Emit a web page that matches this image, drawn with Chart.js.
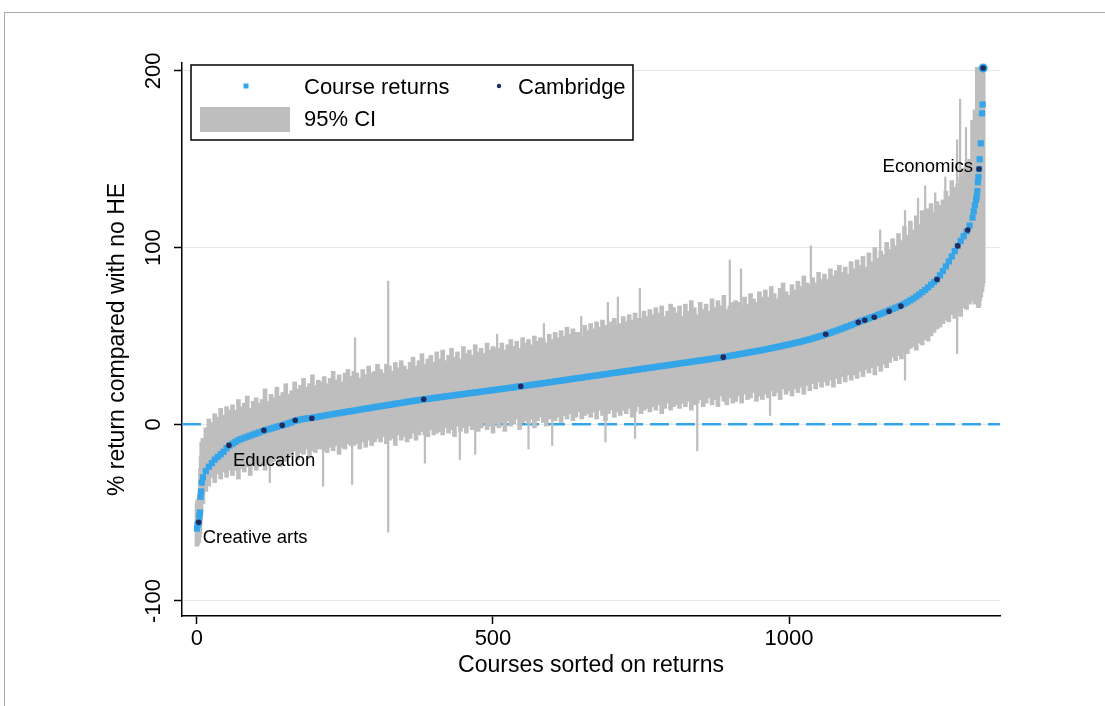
<!DOCTYPE html>
<html>
<head>
<meta charset="utf-8">
<script src="https://cdn.jsdelivr.net/npm/chart.js@4.4.1/dist/chart.umd.min.js"></script>
<style>
    html, body { margin: 0; padding: 0; background: #fff; }
    #wrap { position: relative; width: 1105px; height: 706px; overflow: hidden; }
    #frame { position: absolute; left: 4px; top: 12px; width: 1110px; height: 700px; border-top: 1px solid #aaa; border-left: 1px solid #aaa; }
    canvas { position: absolute; left: 0; top: 0; }
</style>
</head>
<body>
<div id="wrap">
    <div id="frame"></div>
    <canvas id="chart" width="1105" height="706"></canvas>
</div>
<script>
// course ranks 0..8 (steep start)
const headRanks = [0, 1, 2, 3, 4, 5, 6, 7, 8];
const headReturns = [-59, -57, -56, -55.5, -52, -50, -41, -38, -33];
const headLow = [-69, -68, -66, -67, -64, -62, -55, -50, -44];
const headHigh = [-45, -43, -44, -42, -40, -36, -25, -18, -10];

// course ranks 10..1305, one value every 5 courses
const midStart = 10;
const midStep = 5;
const midReturns = [
    -30, -26.5, -24, -22, -20, -18.5, -17, -15.5, -13.5, -12,
    -11, -10, -9, -8.3, -7.6, -7, -6.4, -5.8, -5.2, -4.6,
    -4, -3.4, -2.9, -2.4, -1.9, -1.4, -0.9, -0.5, 0, 0.6,
    1.2, 1.9, 2.3, 2.7, 3, 3.3, 3.5, 3.7, 4, 4.3,
    4.6, 4.9, 5.2, 5.5, 5.8, 6.1, 6.3, 6.6, 6.9, 7.2,
    7.4, 7.7, 8, 8.3, 8.6, 8.9, 9.1, 9.4, 9.7, 10,
    10.2, 10.5, 10.8, 11, 11.3, 11.6, 11.9, 12.1, 12.4, 12.7,
    12.9, 13.2, 13.5, 13.7, 14, 14.2, 14.4, 14.6, 14.9, 15.1,
    15.3, 15.5, 15.8, 16, 16.2, 16.4, 16.7, 16.9, 17.1, 17.3,
    17.6, 17.8, 18, 18.2, 18.5, 18.7, 18.9, 19.1, 19.4, 19.6,
    19.8, 20, 20.3, 20.5, 20.7, 20.9, 21.2, 21.4, 21.6, 21.8,
    22.1, 22.3, 22.6, 22.8, 23, 23.3, 23.5, 23.8, 24, 24.3,
    24.5, 24.7, 25, 25.2, 25.5, 25.7, 26, 26.2, 26.4, 26.7,
    26.9, 27.2, 27.4, 27.6, 27.9, 28.1, 28.4, 28.6, 28.9, 29.1,
    29.3, 29.6, 29.8, 30.1, 30.3, 30.5, 30.8, 31, 31.3, 31.5,
    31.8, 32, 32.2, 32.5, 32.7, 33, 33.2, 33.4, 33.7, 33.9,
    34.2, 34.4, 34.7, 34.9, 35.1, 35.4, 35.6, 35.9, 36.1, 36.3,
    36.6, 36.8, 37.1, 37.3, 37.6, 37.8, 38.1, 38.4, 38.7, 39,
    39.3, 39.6, 39.9, 40.2, 40.5, 40.8, 41.1, 41.4, 41.7, 42,
    42.4, 42.7, 43.1, 43.4, 43.8, 44.1, 44.5, 44.9, 45.2, 45.6,
    46, 46.4, 46.8, 47.2, 47.7, 48.1, 48.6, 49.1, 49.6, 50.1,
    50.7, 51.2, 51.8, 52.4, 53, 53.6, 54.2, 54.9, 55.5, 56.1,
    56.8, 57.5, 58.2, 58.8, 59.4, 60, 60.6, 61.2, 61.9, 62.5,
    63.2, 63.9, 64.6, 65.3, 66, 66.7, 67.4, 68.3, 69.2, 70.2,
    71.2, 72.3, 73.5, 74.8, 76.1, 77.5, 79, 80.5, 82, 84.3,
    86.8, 89.4, 92.2, 95, 98, 101, 103.8, 106.5, 109.2, 112.5
];
const midLow = [
    -45, -38, -35, -30, -33, -28, -31, -27, -30, -26,
    -29, -26, -31, -25, -27, -24, -29, -23, -26, -24,
    -22, -26, -20, -22, -21, -19, -24, -18, -21, -17,
    -18, -15, -20, -16, -17, -14, -19, -15, -16, -14,
    -14, -15, -16, -13, -15, -12, -17, -13, -14, -11,
    -12, -12, -11, -14, -10, -13, -9, -12, -10, -8,
    -10, -7, -11, -9, -8, -12, -6, -9, -7, -10,
    -8, -5, -9, -6, -4, -6, -7, -3, -6, -5,
    -4, -6, -2, -5, -3, -7, -1, -4, -2, -5,
    -1, -3, 0, -4, -2, 1, -3, -1, -5, 0,
    -2, 1, -4, 2, -1, 0, 3, -3, 1, 2,
    0, 3, -2, 2, 4, 1, -1, 3, 5, 2,
    4, 1, 5, 3, 6, 2, 4, 7, 3, 5,
    6, 4, 7, 3, 8, 5, 2, 6, 8, 4,
    7, 5, 8, 6, 9, 4, 7, 10, 6, 8,
    9, 7, 10, 8, 11, 6, 9, 12, 8, 10,
    11, 9, 12, 10, 13, 8, 11, 12, 14, 10,
    12, 15, 11, 14, 10, 16, 13, 11, 15, 12,
    13, 16, 12, 17, 14, 15, 18, 13, 16, 14,
    17, 15, 19, 16, 18, 14, 20, 17, 19, 16,
    20, 18, 21, 17, 22, 19, 23, 20, 24, 21,
    24, 22, 25, 21, 26, 23, 27, 24, 28, 25,
    28, 26, 30, 27, 31, 29, 32, 28, 33, 30,
    34, 32, 35, 38, 36, 39, 37, 41, 40, 43,
    44, 42, 46, 45, 48, 47, 50, 52, 54, 55,
    57, 59, 58, 62, 60, 64, 61, 66, 65, 68
];
const midHigh = [
    -8, -2, 3, 1, 6, 4, 9, 5, 10, 8,
    11, 8, 14, 10, 12, 16, 9, 13, 15, 12,
    14, 20, 13, 17, 15, 21, 16, 18, 23, 17,
    19, 24, 20, 22, 26, 21, 23, 28, 22, 25,
    24, 27, 23, 26, 30, 25, 28, 24, 29, 31,
    27, 30, 29, 26, 31, 28, 33, 29, 30, 34,
    31, 29, 34, 33, 30, 35, 32, 36, 33, 31,
    35, 38, 33, 36, 40, 34, 37, 39, 35, 41,
    37, 42, 36, 39, 43, 38, 41, 37, 44, 40,
    42, 39, 45, 41, 43, 40, 46, 42, 44, 43,
    43, 46, 42, 45, 48, 44, 47, 43, 49, 46,
    48, 45, 50, 47, 49, 48, 46, 51, 48, 52,
    49, 53, 50, 55, 51, 54, 52, 52, 50, 56,
    53, 57, 54, 58, 55, 59, 56, 55, 58, 60,
    56, 57, 61, 58, 62, 59, 63, 60, 60, 64,
    61, 65, 62, 66, 63, 67, 61, 64, 68, 66,
    63, 67, 61, 68, 64, 70, 66, 62, 69, 65,
    68, 64, 71, 66, 70, 67, 73, 65, 67, 69,
    70, 69, 67, 72, 68, 74, 71, 69, 75, 72,
    76, 72, 78, 74, 71, 77, 80, 75, 73, 79,
    76, 81, 78, 84, 80, 79, 83, 80, 86, 82,
    85, 82, 88, 84, 87, 90, 86, 89, 85, 92,
    88, 93, 90, 95, 89, 97, 92, 100, 94, 98,
    96, 103, 99, 105, 101, 108, 104, 112, 107, 115,
    110, 118, 113, 121, 116, 122, 125, 120, 126, 124,
    127, 132, 129, 138, 134, 136, 140, 145, 147, 150
];

// course ranks at the very top
const tailRanks = [1310, 1312, 1314, 1316, 1317, 1318, 1319, 1320, 1321, 1322, 1324, 1326, 1327, 1328];
const tailReturns = [117, 120.5, 124, 127, 129, 132, 137, 140, 144.5, 150, 159, 176, 181, 201.7];
const tailLow = [70, 72, 68, 74, 71, 69, 73, 66, 67, 70, 72, 75, 78, 80];
const tailHigh = [172, 160, 178, 165, 170, 202, 202, 202, 202, 202, 202, 202, 202, 202];

// courses with a very wide interval, drawn as thin lines
const wideRanks = [123, 213, 262, 267, 323, 385, 444, 470, 507, 560, 586, 600, 649, 690, 694, 711, 740, 748, 794, 804, 845, 900, 919, 968, 1037, 1083, 1103, 1154, 1196, 1218, 1230, 1247, 1264, 1284, 1289, 1299];
const wideLow = [-33, -35, -34, 0, -61, -22, -20, -17, 10, -14, 15, -12, 20, -10, 22, 25, -8, 30, 30, 35, -15, 45, 45, 5, 55, 60, 60, 65, 25, 75, 80, 80, 85, 40, 95, 100];
const wideHigh = [0, 22, 20, 49, 81, 25, 30, 35, 51, 40, 57, 42, 61, 45, 69, 72, 50, 77, 61, 66, 50, 93, 88, 60, 101, 90, 92, 110, 121, 128, 135, 131, 140, 161, 184, 168];

// Cambridge courses
const cambridgeRanks = [3, 54, 113, 144, 166, 194, 383, 547, 889, 1062, 1117, 1128, 1144, 1169, 1189, 1250, 1285, 1302, 1321, 1328];
const cambridgeReturns = [-55.5, -11.9, -3.4, -0.6, 2.3, 3.4, 14.2, 21.5, 38, 51, 57.8, 58.9, 60.6, 64, 66.9, 82, 101, 110, 144.5, 201.7];

const labelTexts = ["Creative arts", "Education", "Economics"];
const labelPoints = [0, 1, 18];

const xTicks = [0, 500, 1000];
const yTicks = [-100, 0, 100, 200];
const xMin = -25.3;
const xMax = 1356.4;
const yMin = -108.5;
const yMax = 204.5;

const FONT = "'Liberation Sans', Arial, Helvetica, sans-serif";
const BLUE = "#34a5e8";
const GREY = "#bebebe";
const NAVY = "#202b5e";

const midRanks = midReturns.map((_, i) => midStart + midStep * i);
const ranks = headRanks.concat(midRanks, tailRanks);
const returns = headReturns.concat(midReturns, tailReturns);
const ciLow = headLow.concat(midLow, tailLow);
const ciHigh = headHigh.concat(midHigh, tailHigh);

const yTickLabels = {
    id: "yTickLabels",
    afterDraw(chart) {
        const { ctx, scales: { y } } = chart;
        ctx.save();
        ctx.fillStyle = "#000";
        ctx.font = `22px ${FONT}`;
        ctx.textAlign = "center";
        ctx.textBaseline = "alphabetic";
        yTicks.forEach(v => {
            ctx.save();
            ctx.translate(160, y.getPixelForValue(v));
            ctx.rotate(-Math.PI / 2);
            ctx.fillText(String(v), 0, 0);
            ctx.restore();
        });
        ctx.restore();
    }
};

const pointLabels = {
    id: "pointLabels",
    afterDatasetsDraw(chart) {
        const { ctx, scales: { x, y } } = chart;
        ctx.save();
        ctx.fillStyle = "#000";
        ctx.font = `18.5px ${FONT}`;
        ctx.textBaseline = "alphabetic";
        labelPoints.forEach((p, i) => {
            const px = x.getPixelForValue(cambridgeRanks[p]);
            const py = y.getPixelForValue(cambridgeReturns[p]);
            if (i === 2) {
                ctx.textAlign = "right";
                ctx.fillText(labelTexts[i], px - 6, py + 2.6);
            } else {
                ctx.textAlign = "left";
                ctx.fillText(labelTexts[i], px + 4, py + 20.6);
            }
        });
        ctx.restore();
    }
};

const legendBox = {
    id: "legendBox",
    afterDraw(chart) {
        const ctx = chart.ctx;
        ctx.save();
        ctx.fillStyle = "#fff";
        ctx.fillRect(191, 65, 442, 75);
        ctx.strokeStyle = "#000";
        ctx.lineWidth = 1.5;
        ctx.strokeRect(191, 65, 442, 75);

        ctx.fillStyle = BLUE;
        ctx.fillRect(243.5, 83.5, 5, 5);
        ctx.fillStyle = NAVY;
        ctx.beginPath();
        ctx.arc(499, 86, 2.2, 0, Math.PI * 2);
        ctx.fill();
        ctx.fillStyle = GREY;
        ctx.fillRect(200, 107, 90, 25);

        ctx.fillStyle = "#000";
        ctx.font = `22px ${FONT}`;
        ctx.textAlign = "left";
        ctx.textBaseline = "alphabetic";
        ctx.fillText("Course returns", 304, 94);
        ctx.fillText("Cambridge", 518, 94);
        ctx.fillText("95% CI", 304, 126);
        ctx.restore();
    }
};

new Chart(document.getElementById("chart"), {
    type: "bar",
    data: {
        datasets: [
            {
                type: "scatter",
                label: "Cambridge",
                data: cambridgeRanks.map((r, i) => ({ x: r, y: cambridgeReturns[i] })),
                backgroundColor: NAVY,
                borderWidth: 0,
                pointRadius: 2.8,
                order: 0
            },
            {
                type: "scatter",
                label: "Course returns",
                data: ranks.map((r, i) => ({ x: r, y: returns[i] })),
                backgroundColor: BLUE,
                borderWidth: 0,
                pointStyle: c => (c.dataIndex === ranks.length - 1 ? "circle" : "rect"),
                pointRadius: c => (c.dataIndex === ranks.length - 1 ? 4.5 : 4.4),
                order: 1
            },
            {
                type: "bar",
                label: "95% CI",
                data: ranks.map((r, i) => ({ x: r, y: [ciLow[i], ciHigh[i]] })),
                backgroundColor: GREY,
                borderWidth: 0,
                barThickness: 4,
                order: 2
            },
            {
                type: "bar",
                label: "95% CI wide",
                data: wideRanks.map((r, i) => ({ x: r, y: [wideLow[i], wideHigh[i]] })),
                backgroundColor: GREY,
                borderWidth: 0,
                barThickness: 1.6,
                grouped: false,
                order: 2
            },
            {
                type: "line",
                label: "zero",
                data: [{ x: xMin, y: 0 }, { x: xMax, y: 0 }],
                borderColor: BLUE,
                borderWidth: 2.6,
                borderDash: [19, 7],
                pointRadius: 0,
                order: 3
            }
        ]
    },
    options: {
        responsive: false,
        animation: false,
        events: [],
        layout: { padding: { left: 0, top: 63, right: 105, bottom: 0 } },
        datasets: { bar: { grouped: false } },
        plugins: {
            legend: { display: false },
            tooltip: { enabled: false }
        },
        scales: {
            x: {
                type: "linear",
                min: xMin,
                max: xMax,
                offset: false,
                afterBuildTicks: s => { s.ticks = xTicks.map(v => ({ value: v })); },
                afterFit: s => { s.height = 90; },
                grid: {
                    offset: false,
                    drawOnChartArea: false,
                    tickLength: 8,
                    tickColor: "#000",
                    tickWidth: 1.5
                },
                border: { display: true, color: "#000", width: 1.5 },
                ticks: {
                    color: "#000",
                    padding: 2,
                    maxRotation: 0,
                    callback: v => String(v),
                    font: { family: FONT, size: 22 }
                },
                title: {
                    display: true,
                    text: "Courses sorted on returns",
                    color: "#000",
                    font: { family: FONT, size: 23 },
                    padding: { top: 0, bottom: 27 }
                }
            },
            y: {
                type: "linear",
                min: yMin,
                max: yMax,
                afterBuildTicks: s => { s.ticks = yTicks.map(v => ({ value: v })); },
                afterFit: s => { s.width = 182; },
                grid: {
                    color: "#e6e6e6",
                    lineWidth: 1,
                    tickLength: 8,
                    tickColor: "#000",
                    tickWidth: 1.5
                },
                border: { display: true, color: "#000", width: 1.5 },
                ticks: { display: false },
                title: {
                    display: true,
                    text: "% return compared with no HE",
                    color: "#000",
                    font: { family: FONT, size: 23 },
                    padding: { top: 104, bottom: 0 }
                }
            }
        }
    },
    plugins: [yTickLabels, pointLabels, legendBox]
});
</script>
</body>
</html>
